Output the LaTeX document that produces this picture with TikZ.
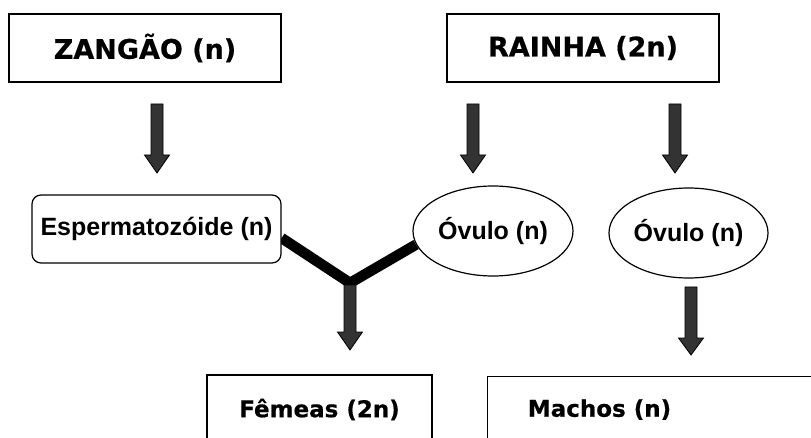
\documentclass[tikz,border=0pt]{standalone}
\usepackage{fontspec}
\setmainfont{DejaVu Sans}[BoldFont={DejaVu Sans Bold}, BoldFeatures={FakeBold=0.6}]
\newfontfamily\arialf{Liberation Sans}
\usetikzlibrary{shapes.geometric,backgrounds}
\definecolor{arrowgray}{HTML}{333333}
\tikzset{
  bigbox/.style={draw=black, line width=1.2pt, fill=white, rectangle, inner sep=0pt,
    minimum height=68pt, font=\fontsize{27}{32}\selectfont\bfseries},
  bigtext/.style={inner sep=0pt, font=\fontsize{23}{28}\selectfont\bfseries},
  smallbox/.style={draw=black, line width=1.2pt, fill=white, inner sep=0pt,
    font=\fontsize{25}{30}\selectfont\arialf\bfseries},
  yline/.style={line width=10.5pt, black, line join=miter},
  blockarrow/.style={fill=arrowgray, draw=black, line width=0.8pt, line join=miter}
}
\newcommand\blockarr[4]{%
  \filldraw[blockarrow] (#1-6,#2) -- (#1+6,#2) -- (#1+6,#3) -- (#1+12.5,#3) -- (#1,#4) -- (#1-12.5,#3) -- (#1-6,#3) -- cycle;}
\begin{document}
\begin{tikzpicture}[x=1pt,y=-1pt]
\useasboundingbox (0,0) rectangle (811,438);
% top boxes
\node[bigbox, minimum width=272pt] (zangao) at (145,48) {ZANGÃO (n)};
\node[bigbox, minimum width=272pt] (rainha) at (583,48) {RAINHA (2n)};
% middle
\node[smallbox, rectangle, rounded corners=9pt, minimum width=249pt, minimum height=68pt] (esp) at (156.5,229) {Espermatozóide (n)};
\node[smallbox, ellipse, minimum width=160pt, minimum height=90pt] (ov1) at (493,231) {Óvulo (n)};
\node[smallbox, ellipse, minimum width=159pt, minimum height=90pt] (ov2) at (688.5,233) {Óvulo (n)};
% bottom boxes
\node[bigbox, minimum width=225pt, minimum height=69pt, font=\fontsize{23}{28}\selectfont\bfseries] (femeas) at (319.5,409.5) {Fêmeas (2n)};
\node[draw=black, line width=1.2pt, fill=white, rectangle, inner sep=0pt, minimum width=360pt, minimum height=69pt, anchor=north west] (machosbox) at (487,376) {};
\node[bigtext] (machos) at (599.5,409.5) {Machos (n)};
% Y connector
\coordinate (yj) at (350,283);
\begin{scope}[on background layer]
\draw[yline] ([yshift=-9pt]esp.east) -- (yj) -- (ov1.190);
\end{scope}
% block arrows
\blockarr{157}{104}{155}{173}
\blockarr{473}{104}{155}{173}
\blockarr{675}{104}{155}{173}
\blockarr{350}{285}{332}{350}
\blockarr{691}{287}{338}{355}
\end{tikzpicture}
\end{document}
